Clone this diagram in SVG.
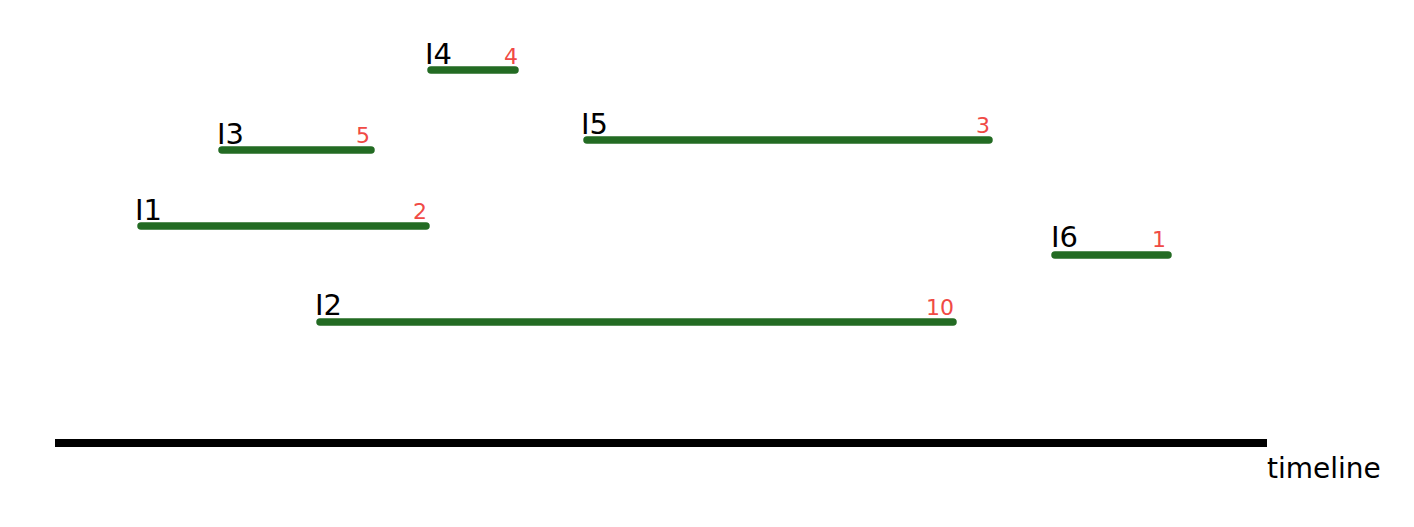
<svg xmlns="http://www.w3.org/2000/svg" width="1414" height="527" viewBox="0 0 1414 527">
<style>
.bar{stroke:#236b23;stroke-width:7.5;stroke-linecap:round;fill:none}
.lbl{font-family:"DejaVu Sans","Liberation Sans",sans-serif;font-size:29px;fill:#000}
.num{font-family:"DejaVu Sans","Liberation Sans",sans-serif;font-size:22px;fill:#f04a45;text-anchor:end}
.axis{stroke:#000;stroke-width:8;fill:none}
</style>
<rect width="1414" height="527" fill="#fff"/>
<g id="I4"><line class="bar" x1="431" y1="70" x2="515" y2="70"/><text class="lbl" x="425" y="64">I4</text><text class="num" x="518" y="64">4</text></g>
<g id="I3"><line class="bar" x1="222" y1="150" x2="371" y2="150"/><text class="lbl" x="217" y="144">I3</text><text class="num" x="370" y="143">5</text></g>
<g id="I5"><line class="bar" x1="587" y1="140" x2="989" y2="140"/><text class="lbl" x="581" y="134">I5</text><text class="num" x="990" y="133">3</text></g>
<g id="I1"><line class="bar" x1="141" y1="226" x2="426" y2="226"/><text class="lbl" x="135" y="220">I1</text><text class="num" x="427" y="219">2</text></g>
<g id="I6"><line class="bar" x1="1055" y1="255" x2="1168" y2="255"/><text class="lbl" x="1051" y="247">I6</text><text class="num" x="1166" y="247">1</text></g>
<g id="I2"><line class="bar" x1="320" y1="322" x2="953" y2="322"/><text class="lbl" x="315" y="315">I2</text><text class="num" x="954" y="315">10</text></g>
<g id="timeline"><line class="axis" x1="55" y1="443" x2="1267" y2="443"/><text class="lbl" x="1267" y="478" style="font-size:28px">timeline</text></g>
</svg>
